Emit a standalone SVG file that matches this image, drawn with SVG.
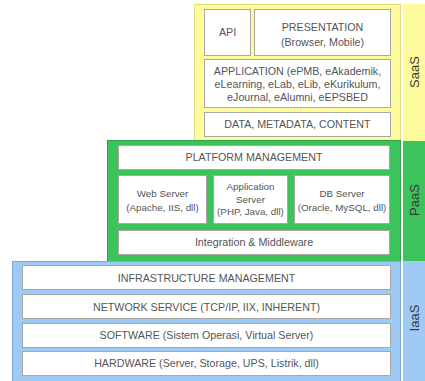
<svg xmlns="http://www.w3.org/2000/svg" width="425" height="381" viewBox="0 0 425 381">
<style>
.box{fill:#ffffff;stroke:#a8a8a0;stroke-width:1}
.t{font-family:"Liberation Sans",Arial,sans-serif;font-size:10.7px;fill:#555555;text-anchor:middle}
.m{font-size:9.8px}
.s{font-family:"Liberation Sans",Arial,sans-serif;font-size:13px;fill:#3a3a3a;text-anchor:middle}
.y{fill:#fdfb9c;stroke:#e2dc7a;stroke-width:1}
.g{fill:#3dc35c;stroke:#2fa04a;stroke-width:1}
.b{fill:#9fcaf6;stroke:#78a8dc;stroke-width:1}
</style>
<rect width="425" height="381" fill="#ffffff"/>
<g id="saas-layer">
<rect class="y" x="194.5" y="4.5" width="206" height="136"/>
</g>
<g id="paas-layer">
<rect class="g" x="107.5" y="140.5" width="293" height="121"/>
</g>
<g id="iaas-layer">
<rect class="b" x="12.5" y="261.5" width="388" height="121"/>
</g>
<g id="strip">
<rect x="403" y="4" width="22" height="137" fill="#fdfb9c"/>
<rect x="403" y="141" width="22" height="120" fill="#3dc35c"/>
<rect x="403" y="261" width="22" height="120" fill="#9fcaf6"/>
<text class="s" transform="translate(419,72) rotate(-90)">SaaS</text>
<text class="s" transform="translate(419,200) rotate(-90)">PaaS</text>
<text class="s" transform="translate(419,318) rotate(-90)">IaaS</text>
</g>
<g id="api"><rect class="box" x="204.5" y="9.5" width="46" height="46"/><text class="t" x="227.5" y="36">API</text></g>
<g id="presentation"><rect class="box" x="254.5" y="9.5" width="136" height="46"/><text class="t" x="322.5" y="31">PRESENTATION</text><text class="t" x="322.5" y="45.5">(Browser, Mobile)</text></g>
<g id="application"><rect class="box" x="204.5" y="59.5" width="186" height="48"/><text class="t" x="297.5" y="74.5">APPLICATION (ePMB, eAkademik,</text><text class="t" x="297.5" y="87.5">eLearning, eLab, eLib, eKurikulum,</text><text class="t" x="297.5" y="100.5">eJournal, eAlumni, eEPSBED</text></g>
<g id="data"><rect class="box" x="204.5" y="112.5" width="186" height="24"/><text class="t" x="297.5" y="128">DATA, METADATA, CONTENT</text></g>
<g id="platform"><rect class="box" x="118.5" y="145.5" width="271" height="24"/><text class="t" x="254" y="161">PLATFORM MANAGEMENT</text></g>
<g id="webserver"><rect class="box" x="118.5" y="175.5" width="88" height="48"/><text class="t m" x="162.5" y="197">Web Server</text><text class="t m" x="162.5" y="210.5">(Apache, IIS, dll)</text></g>
<g id="appserver"><rect class="box" x="213.5" y="175.5" width="74" height="48"/><text class="t m" x="250.5" y="190">Application</text><text class="t m" x="250.5" y="202.5">Server</text><text class="t m" x="250.5" y="215">(PHP, Java, dll)</text></g>
<g id="dbserver"><rect class="box" x="294.5" y="175.5" width="95" height="48"/><text class="t m" x="342" y="197">DB Server</text><text class="t m" x="342" y="210.5">(Oracle, MySQL, dll)</text></g>
<g id="integration"><rect class="box" x="118.5" y="230.5" width="271" height="24"/><text class="t" x="254" y="245.5">Integration &amp; Middleware</text></g>
<g id="infra"><rect class="box" x="22.5" y="265.5" width="368" height="24"/><text class="t" x="206.5" y="281.5">INFRASTRUCTURE MANAGEMENT</text></g>
<g id="network"><rect class="box" x="22.5" y="294.5" width="368" height="24"/><text class="t" x="206.5" y="310.5">NETWORK SERVICE (TCP/IP, IIX, INHERENT)</text></g>
<g id="software"><rect class="box" x="22.5" y="323.5" width="368" height="24"/><text class="t" x="206.5" y="339">SOFTWARE (Sistem Operasi, Virtual Server)</text></g>
<g id="hardware"><rect class="box" x="22.5" y="351.5" width="368" height="24"/><text class="t" x="206.5" y="367">HARDWARE (Server, Storage, UPS, Listrik, dll)</text></g>
<g id="connectors"></g>
</svg>
